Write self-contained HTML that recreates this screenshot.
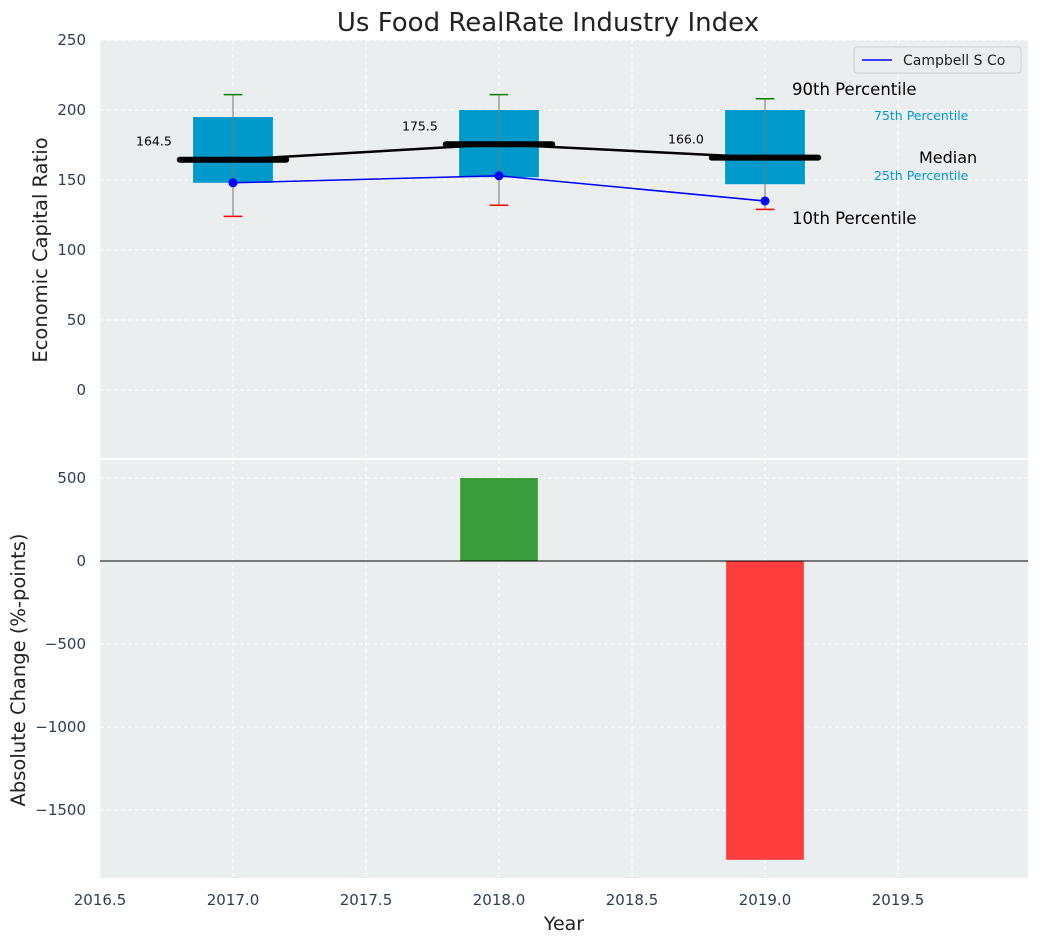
<!DOCTYPE html>
<html><head><meta charset="utf-8"><style>
body{margin:0;background:#fff;font-family:"Liberation Sans","DejaVu Sans",sans-serif}
</style></head><body>
<svg id="c" width="1039" height="942" xmlns="http://www.w3.org/2000/svg" font-family="DejaVu Sans, Liberation Sans, sans-serif"></svg>
<script>
const years=[2017,2018,2019];
const p10=[124,132,129];
const q1=[148,152,147];
const medians=[164.5,175.5,166.0];
const q3=[195,200,200];
const p90=[211,211,208];
const company=[148,153,135];
const changes=[0,500,-1800];
const xTicks=[2016.5,2017.0,2017.5,2018.0,2018.5,2019.0,2019.5];
const yTopTicks=[0,50,100,150,200,250];
const yBotTicks=[500,0,-500,-1000,-1500];

const NS="http://www.w3.org/2000/svg";
const svg=document.getElementById('c');
function el(t,a,p){const e=document.createElementNS(NS,t);for(const k in a)e.setAttribute(k,a[k]);(p||svg).appendChild(e);return e;}
const X=v=>100+(v-2016.5)*266;
const YT=v=>390-v*1.4;
const YB=v=>561-v*0.166;
const L=100,R=1028;
let bg=el('rect',{x:L,y:40,width:R-L,height:418,fill:'#EBEEEF'});

let bg2=el('rect',{x:L,y:460,width:R-L,height:418,fill:'#EBEEEF'});

xTicks.forEach(t=>{
 el('line',{x1:X(t),x2:X(t),y1:40,y2:458,stroke:'#fff','stroke-dasharray':'4,3','stroke-width':1});
 el('line',{x1:X(t),x2:X(t),y1:460,y2:878,stroke:'#fff','stroke-dasharray':'4,3','stroke-width':1});
 const tx=el('text',{x:X(t),y:905,'text-anchor':'middle','font-size':15,fill:'#2d3e50'});tx.textContent=t.toFixed(1);
 
});
yTopTicks.forEach(t=>{
 el('line',{x1:L,x2:R,y1:YT(t),y2:YT(t),stroke:'#fff','stroke-dasharray':'4,3'});
 const tx=el('text',{x:86,y:YT(t)+5,'text-anchor':'end','font-size':15,fill:'#2d3e50'});tx.textContent=t;
 
});
yBotTicks.forEach(t=>{
 el('line',{x1:L,x2:R,y1:YB(t),y2:YB(t),stroke:'#fff','stroke-dasharray':'4,3'});
 const tx=el('text',{x:86,y:YB(t)+5,'text-anchor':'end','font-size':15,fill:'#2d3e50'});tx.textContent=t<0?'\u2212'+(-t):t;
 
});
years.forEach((y,i)=>{
 const b=el('rect',{x:X(y-0.15),y:YT(q3[i]),width:X(y+0.15)-X(y-0.15),height:YT(q1[i])-YT(q3[i]),fill:'#0099CC'});
 
 el('line',{x1:X(y),x2:X(y),y1:YT(p90[i]),y2:YT(p10[i]),stroke:'#777','stroke-width':1});
 el('line',{x1:X(y-0.035),x2:X(y+0.035),y1:YT(p90[i]),y2:YT(p90[i]),stroke:'green','stroke-width':1.5});
 el('line',{x1:X(y-0.035),x2:X(y+0.035),y1:YT(p10[i]),y2:YT(p10[i]),stroke:'red','stroke-width':1.5});
});
let md=el('polyline',{points:years.map((y,i)=>X(y)+','+YT(medians[i])).join(' '),fill:'none',stroke:'#000','stroke-width':2.5});

years.forEach((y,i)=>{
 const m=el('line',{x1:X(y-0.2),x2:X(y+0.2),y1:YT(medians[i]),y2:YT(medians[i]),stroke:'#000','stroke-width':6,'stroke-linecap':'round'});
 
 const t=el('text',{x:X(y-0.23),y:YT(medians[i])-14,'text-anchor':'end','font-size':12.5,fill:'#000'});t.textContent=medians[i].toFixed(1);
 
});
let cl=el('polyline',{points:years.map((y,i)=>X(y)+','+YT(company[i])).join(' '),fill:'none',stroke:'blue','stroke-width':1.5});

years.forEach((y,i)=>{const c=el('circle',{cx:X(y),cy:YT(company[i]),r:4.5,fill:'blue'});
 });
const lx=X(years[2]);
[['90th Percentile',lx+27,95,16.5,'#000'],['75th Percentile',lx+109,120,12.5,'#0099CC'],['Median',lx+154,163,16,'#000'],['25th Percentile',lx+109,180,12.5,'#0099CC'],['10th Percentile',lx+27,224,16.5,'#000']].forEach(a=>{
 const t=el('text',{x:a[1],y:a[2],'font-size':a[3],fill:a[4]});t.textContent=a[0];
 
});
const lg=el('g',{});
el('rect',{x:854,y:47,width:167,height:26,rx:3,fill:'#EBEEEF',stroke:'#ccc'},lg);
el('line',{x1:862,x2:892,y1:60,y2:60,stroke:'blue','stroke-width':1.5},lg);
const lt=el('text',{x:903,y:65,'font-size':14,fill:'#222'},lg);lt.textContent='Campbell S Co';
years.forEach((y,i)=>{
 if(!changes[i])return;
 const v=changes[i];
 const r=el('rect',{x:X(y-0.146),y:Math.min(YB(v),YB(0)),width:X(y+0.146)-X(y-0.146),height:Math.abs(YB(v)-YB(0)),fill:v>0?'#3A9C3C':'#FF3D3D'});
 
});
el('line',{x1:L,x2:R,y1:YB(0),y2:YB(0),stroke:'#000','stroke-width':1});
let ti=el('text',{x:548,y:31,'text-anchor':'middle','font-size':26,fill:'#222'});ti.textContent='Us Food RealRate Industry Index';

let xa=el('text',{x:564,y:930,'text-anchor':'middle','font-size':19,fill:'#222'});xa.textContent='Year';

let ya=el('text',{x:0,y:0,'text-anchor':'middle','font-size':19.5,fill:'#222',transform:'translate(47,250) rotate(-90)'});ya.textContent='Economic Capital Ratio';

let yb=el('text',{x:0,y:0,'text-anchor':'middle','font-size':19.5,fill:'#222',transform:'translate(25,670) rotate(-90)'});yb.textContent='Absolute Change (%-points)';

</script>
</body></html>
